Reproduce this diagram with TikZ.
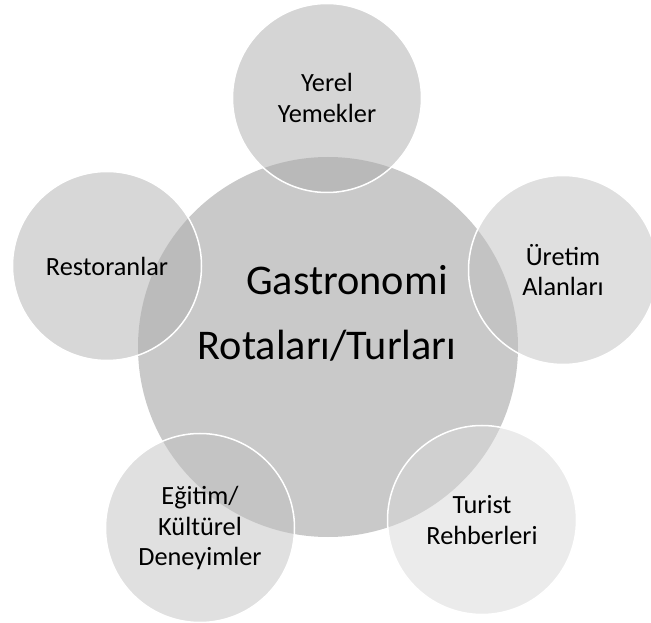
\documentclass[tikz,border=0pt]{standalone}
\usepackage{fontspec}
\setmainfont{Carlito}
\usetikzlibrary{positioning,calc}
\definecolor{hubgray}{HTML}{C9C9C9}
\definecolor{yerelgray}{HTML}{ABABAB}
\definecolor{restgray}{HTML}{AFAFAF}
\definecolor{uretimgray}{HTML}{BFBFBF}
\definecolor{egitimgray}{HTML}{C1C1C1}
\definecolor{turistgray}{HTML}{D7D7D7}

\begin{document}
\begin{tikzpicture}[x=1pt, y=1pt,
    hub/.style={circle, fill=hubgray, minimum size=380pt, inner sep=0pt},
    sat/.style={circle, minimum size=189pt, inner sep=0pt, fill=#1,
                fill opacity=0.5, text opacity=1, draw=white, draw opacity=1,
                line width=1.5pt, align=center,
                font=\fontsize{26.3}{30.5}\selectfont},
    hubtxt/.style={align=center, font=\fontsize{42.3}{65}\selectfont}
  ]
    \useasboundingbox (0,0) rectangle (651,622);

    % centre circle
    \node[hub] (hub) at (328,275) {};

    % satellites
    \node[sat=yerelgray]  (yerel)  at (327,524) {Yerel\\Yemekler};
    \node[sat=uretimgray] (uretim) at (563,352) {Üretim\\Alanları};
    \node[sat=turistgray] (turist) at (482,102) {Turist\\Rehberleri};
    \node[sat=egitimgray] (egitim) at (200,94)  {Eğitim/\\Kültürel\\Deneyimler};
    \node[sat=restgray]   (rest)   at (107,356) {Restoranlar};

    \node[hubtxt] (title) at (327,309) {\hspace*{40pt}Gastronomi\\Rotaları/Turları};
  \end{tikzpicture}
\end{document}
